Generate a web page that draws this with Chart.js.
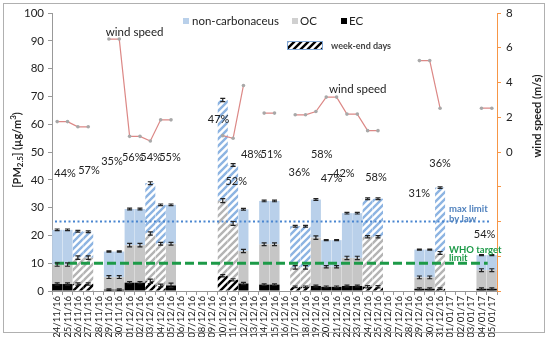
<!DOCTYPE html>
<html><head><meta charset="utf-8">
<script src="https://cdn.jsdelivr.net/npm/chart.js@4.4.1/dist/chart.umd.min.js"></script>
<style>html,body{margin:0;padding:0;background:#fff}#wrap{width:550px;height:337px;position:relative}</style>
</head><body><div id="wrap"><canvas id="c" width="550" height="337"></canvas></div>
<script>
const categories = ['24/11/16','25/11/16','26/11/16','27/11/16','28/11/16','29/11/16','30/11/16',
 '01/12/16','02/12/16','03/12/16','04/12/16','05/12/16','06/12/16','07/12/16','08/12/16','09/12/16',
 '10/12/16','11/12/16','12/12/16','13/12/16','14/12/16','15/12/16','16/12/16','17/12/16','18/12/16',
 '19/12/16','20/12/16','21/12/16','22/12/16','23/12/16','24/12/16','25/12/16','26/12/16','27/12/16',
 '28/12/16','29/12/16','30/12/16','31/12/16','01/01/17','02/01/17','03/01/17','04/01/17','05/01/17'];
const weekendDays = ['26/11/16','27/11/16','03/12/16','04/12/16','10/12/16','11/12/16','17/12/16','18/12/16','24/12/16','25/12/16','31/12/16','01/01/17'];
const ecValues = [2.5,2.5,2.5,2.5,null,0.5,0.5,3,3,3.5,2,2,null,null,null,null,5.5,4,2.7,null,2.3,2.3,null,1.5,1.5,1.8,1.5,1.5,1.8,1.8,1.5,1.5,null,null,null,0.8,0.8,0.8,null,null,null,0.8,0.8];
const ocValues = [7,7,9.5,9.5,null,4.5,4.5,13.5,13.5,17.2,15,15,null,null,null,null,27,20.3,11.7,null,14.5,14.5,null,7,7,17.4,7.2,7.2,10.1,10.1,18,18,null,null,null,4.1,4.1,12.9,null,null,null,6.7,6.7];
const ncValues = [12.5,12.5,9.5,9.3,null,9.2,9.2,13,13,18.1,14,14,null,null,null,null,36.2,21,15,null,15.6,15.6,null,14.8,14.8,13.7,9.6,9.6,16.1,16.1,13.7,13.7,null,null,null,10,10,23.5,null,null,null,5.4,5.4];
const ecErr = [0.4,0.4,0.4,0.4,0,0.3,0.3,0.4,0.4,0.8,0.5,0.8,0,0,0,0,0.4,0.4,0.4,0,0.3,0.3,0,0.3,0.3,0.3,0.3,0.3,0.3,0.3,0.4,0.4,0,0,0,0.3,0.3,0.3,0,0,0,0.3,0.3];
const ocErr = [0.6,0.6,0.6,0.6,0,0.5,0.5,0.6,0.6,0.6,0.5,0.5,0,0,0,0,0.7,0.7,0.6,0,0.5,0.5,0,0.6,0.6,0.6,0.4,0.4,0.6,0.6,0.4,0.4,0,0,0,0.5,0.5,0.5,0,0,0,0.5,0.5];
const totErr = [0.3,0.3,0.3,0.3,0,0.2,0.2,0.3,0.3,0.5,0.3,0.3,0,0,0,0,0.6,0.5,0.3,0,0.3,0.3,0,0.3,0.3,0.3,0.2,0.2,0.3,0.3,0.3,0.3,0,0,0,0.2,0.2,0.3,0,0,0,0.2,0.2];
const windSpeed = [1.75,1.75,1.45,1.45,null,6.5,6.5,0.9,0.9,0.63,1.85,1.85,null,null,null,null,0.94,0.79,3.83,null,2.24,2.24,null,2.14,2.14,2.33,3.16,3.16,2.18,2.18,1.23,1.23,null,null,null,5.26,5.26,2.52,null,null,null,2.52,2.52];
const pctText = ['44%','57%','35%','56%','54%','55%','47%','52%','48%','51%','36%','58%','47%','42%','58%','31%','36%','54%'];
const pctIndex = [0.76,3.07,5.3,7.3,9.07,10.9,15.6,17.3,18.8,20.7,23.4,25.56,26.5,27.7,30.8,35,37,41.3];
const pctValue = [42.3,43.4,46.6,48,48,48,61.6,39.4,49.1,49.1,42.7,49.1,40.5,42.3,40.9,35.1,45.9,20.4];
const maxLimit = 25;
const whoLimit = 10;
const yTicksLeft = [0,10,20,30,40,50,60,70,80,90,100];

const FONT = 'Lato, "Liberation Sans", sans-serif';
function makePattern(fg, bg){
  const s = 7, p = document.createElement('canvas'); p.width = s; p.height = s;
  const g = p.getContext('2d');
  g.fillStyle = bg; g.fillRect(0,0,s,s);
  g.strokeStyle = fg; g.lineWidth = 2.4;
  g.beginPath();
  g.moveTo(-1, s+1); g.lineTo(s+1, -1);
  g.moveTo(-s/2-1, s/2+1); g.lineTo(s/2+1, -s/2-1);
  g.moveTo(s/2-1, s*1.5+1); g.lineTo(s*1.5+1, s/2-1);
  g.stroke();
  return g.createPattern(p, 'repeat');
}
const tmp = document.createElement('canvas').getContext('2d');
const patBlack = makePattern('#000000', '#ffffff');
const patGray = makePattern('#b4b4b4', '#ffffff');
const patBlue = makePattern('#8db4e2', '#ffffff');
const isWe = i => weekendDays.includes(categories[i]);
const NC_COL = '#b9d0ea', OC_COL = '#c6c6c6', EC_COL = '#000000';

const overlay = {
  id: 'overlay',
  beforeDraw(chart){
    const c = chart.ctx; c.save();
    c.strokeStyle = '#b0b0b0'; c.lineWidth = 1;
    c.strokeRect(3.5, 3.5, 541, 329);
    c.restore();
  },
  afterDatasetsDraw(chart){
    const c = chart.ctx, xs = chart.scales.x, ys = chart.scales.y;
    const left = chart.chartArea.left;
    c.save();
    // reference lines
    c.lineWidth = 2; c.strokeStyle = '#4a86d0'; c.setLineDash([2,2.5]);
    let yy = ys.getPixelForValue(maxLimit);
    c.beginPath(); c.moveTo(left+3, yy); c.lineTo(xs.getPixelForValue(41.9), yy); c.stroke();
    c.lineWidth = 3; c.strokeStyle = '#1d9a48'; c.setLineDash([9,4]);
    yy = ys.getPixelForValue(whoLimit);
    c.beginPath(); c.moveTo(left+3, yy); c.lineTo(xs.getPixelForValue(41.6), yy); c.stroke();
    c.setLineDash([]);
    // error bars
    c.strokeStyle = '#222'; c.lineWidth = 1.2;
    const meta = chart.getDatasetMeta(1);
    categories.forEach((cat, i) => {
      if (ecValues[i] == null) return;
      const x = meta.data[i].x;
      const tops = [[ecValues[i], ecErr[i]], [ecValues[i]+ocValues[i], ocErr[i]], [ecValues[i]+ocValues[i]+ncValues[i], totErr[i]]];
      tops.forEach(([v, e]) => {
        const y1 = ys.getPixelForValue(v - e), y2 = ys.getPixelForValue(v + e);
        c.beginPath();
        c.moveTo(x, y1); c.lineTo(x, y2);
        c.moveTo(x-2.5, y1); c.lineTo(x+2.5, y1);
        c.moveTo(x-2.5, y2); c.lineTo(x+2.5, y2);
        c.stroke();
      });
    });
    // percentage labels
    c.fillStyle = '#222'; c.font = '11px ' + FONT; c.textAlign = 'center'; c.textBaseline = 'middle';
    pctText.forEach((t, k) => c.fillText(t, xs.getPixelForValue(pctIndex[k]), ys.getPixelForValue(pctValue[k])));
    c.textAlign = 'left';
    c.font = '11.5px ' + FONT;
    c.fillText('wind speed', xs.getPixelForValue(4.7), ys.getPixelForValue(93.2));
    c.fillText('wind speed', xs.getPixelForValue(26.26), ys.getPixelForValue(72.7));
    // limit labels
    c.font = 'bold 9.5px ' + FONT;
    c.fillStyle = '#4f81bd';
    c.fillText('max limit', xs.getPixelForValue(37.86), ys.getPixelForValue(29.5));
    c.fillText('by law', xs.getPixelForValue(37.86), ys.getPixelForValue(25.9));
    c.fillStyle = '#1d9a48';
    c.fillText('WHO target', xs.getPixelForValue(37.86), ys.getPixelForValue(14.7));
    c.fillText('limit', xs.getPixelForValue(37.86), ys.getPixelForValue(11.9));
    // legend
    c.font = '11.5px ' + FONT; c.fillStyle = '#222';
    c.fillStyle = NC_COL; c.fillRect(183, 18, 6, 6);
    c.fillStyle = '#222'; c.fillText('non-carbonaceus', 192, 21.5);
    c.fillStyle = '#d0d0d0'; c.fillRect(292, 18, 6, 6);
    c.fillStyle = '#222'; c.fillText('OC', 300, 21.5);
    c.fillStyle = '#000'; c.fillRect(341, 18, 6, 6);
    c.fillStyle = '#222'; c.fillText('EC', 349, 21.5);
    c.fillStyle = patBlack; c.fillRect(288, 42, 34, 7);
    c.strokeStyle = '#7fa6d6'; c.lineWidth = 1; c.strokeRect(287.5, 41.5, 35, 8);
    c.fillStyle = '#444'; c.font = 'bold 9px ' + FONT; c.fillText('week-end days', 331, 46);
    // axis titles
    c.fillStyle = '#222';
    c.save();
    c.translate(17, 150); c.rotate(-Math.PI/2);
    const parts = [['[PM','bold 11px ',0],['2.5','bold 8px ',3],['] (µg/m','bold 11px ',0],['3','bold 8px ',-4],[')','bold 11px ',0]];
    let w = 0;
    parts.forEach(p => { c.font = p[1] + FONT; w += c.measureText(p[0]).width; });
    let px = -w/2;
    c.textAlign = 'left';
    parts.forEach(p => { c.font = p[1] + FONT; c.fillText(p[0], px, p[2]); px += c.measureText(p[0]).width; });
    c.restore();
    c.save();
    c.translate(537, 116); c.rotate(-Math.PI/2);
    c.textAlign = 'center'; c.font = 'bold 11px ' + FONT;
    c.fillText('wind speed (m/s)', 0, 0);
    c.restore();
    c.restore();
  }
};

new Chart(document.getElementById('c'), {
  type: 'bar',
  data: {
    labels: categories,
    datasets: [
      { type: 'line', label: 'wind speed', data: windSpeed, yAxisID: 'y2', borderColor: '#dc8886', borderWidth: 1.2,
        pointRadius: 1.8, pointBackgroundColor: '#a8a8a8', pointBorderColor: '#a8a8a8', pointBorderWidth: 0, spanGaps: false, order: 0 },
      { label: 'EC', data: ecValues, stack: 's', order: 1, borderWidth: 0,
        backgroundColor: categories.map((c, i) => isWe(i) ? patBlack : EC_COL) },
      { label: 'OC', data: ocValues, stack: 's', order: 1, borderWidth: 0,
        backgroundColor: categories.map((c, i) => isWe(i) ? patGray : OC_COL) },
      { label: 'non-carbonaceus', data: ncValues, stack: 's', order: 1, borderWidth: 0,
        backgroundColor: categories.map((c, i) => isWe(i) ? patBlue : NC_COL) }
    ]
  },
  options: {
    responsive: false, animation: false, devicePixelRatio: 1,
    layout: { padding: { top: 13, left: 0, right: 0, bottom: 0 } },
    datasets: { bar: { barPercentage: 0.97, categoryPercentage: 1 } },
    plugins: { legend: { display: false }, tooltip: { enabled: false } },
    scales: {
      x: {
        stacked: true,
        afterFit: s => { s.height = 46; },
        grid: { drawOnChartArea: false, drawTicks: true, tickLength: 4, color: '#999', offset: true },
        border: { display: true, color: '#999' },
        ticks: { autoSkip: false, maxRotation: 90, minRotation: 90, padding: 1, color: '#222', font: { family: FONT, size: 9.5 } }
      },
      y: {
        stacked: true, min: 0, max: 100, position: 'left',
        afterFit: s => { s.width = 52; },
        afterBuildTicks: s => { s.ticks = yTicksLeft.map(v => ({ value: v })); },
        grid: { drawOnChartArea: false, drawTicks: true, tickLength: 4, color: '#999' },
        border: { display: true, color: '#999' },
        ticks: { padding: 4, color: '#222', font: { family: FONT, size: 11.5 } }
      },
      y2: {
        min: -8, max: 8, position: 'right',
        afterFit: s => { s.width = 53; },
        grid: { drawOnChartArea: false, drawTicks: true, tickLength: 4, color: '#f79646' },
        border: { display: true, color: '#f79646' },
        ticks: { stepSize: 2, padding: 5, color: '#222', font: { family: FONT, size: 11.5 },
          callback: v => v >= 0 ? String(v) : '' }
      }
    }
  },
  plugins: [overlay]
});
</script></body></html>
